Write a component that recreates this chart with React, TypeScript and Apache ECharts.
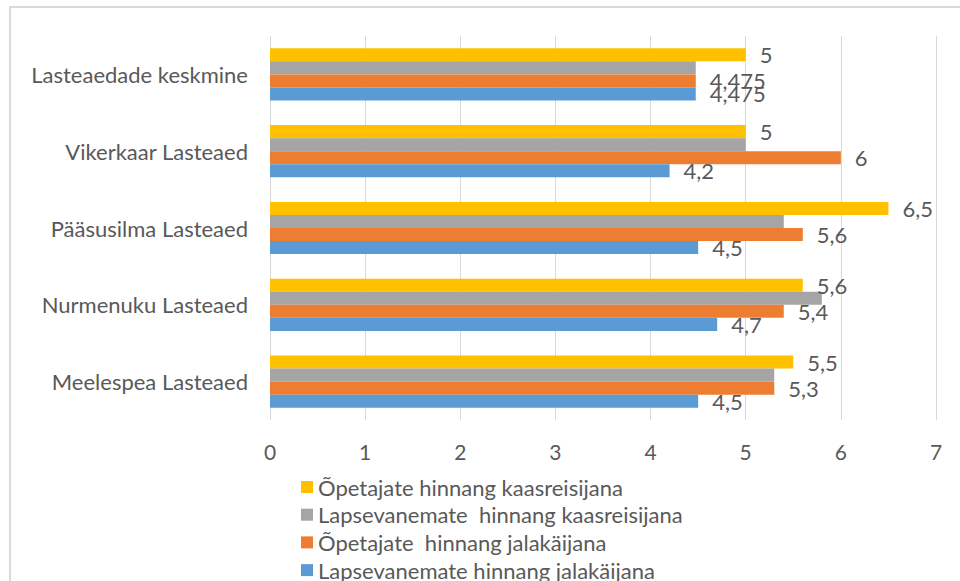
import React, { useEffect, useRef } from "react";
import * as echarts from "echarts";

const categories = [
  "Meelespea Lasteaed",
  "Nurmenuku Lasteaed",
  "Pääsusilma Lasteaed",
  "Vikerkaar Lasteaed",
  "Lasteaedade keskmine",
];

// series in drawing order (top of each group first)
const seriesNames = [
  "Õpetajate hinnang kaasreisijana",
  "Lapsevanemate  hinnang kaasreisijana",
  "Õpetajate  hinnang jalakäijana",
  "Lapsevanemate hinnang jalakäijana",
];

const teachersPassenger = [5.5, 5.6, 6.5, 5, 5];
const parentsPassenger = [5.3, 5.8, 5.4, 5, 4.475];
const teachersWalking = [5.3, 5.4, 5.6, 6, 4.475];
const parentsWalking = [4.5, 4.7, 4.5, 4.2, 4.475];

const xTicks = [0, 1, 2, 3, 4, 5, 6, 7];

const colors = ["#FFC000", "#A5A5A5", "#ED7D31", "#5B9BD5"];
const showLabels = [true, false, true, true];

const FONT = "Lato, 'Noto Sans', sans-serif";

export default function App() {
  const ref = useRef<HTMLDivElement>(null);

  useEffect(() => {
    if (!ref.current) return;
    const chart = echarts.init(ref.current, undefined, { renderer: "svg" });
    const values = [teachersPassenger, parentsPassenger, teachersWalking, parentsWalking];
    const series = values.map((data, i) => ({
      name: seriesNames[i],
      type: "bar",
      data,
      barGap: "0%",
      barCategoryGap: "32%",
      itemStyle: { color: colors[i] },
      label: {
        show: showLabels[i],
        position: "right",
        distance: 14,
        color: "#595959",
        fontSize: 22,
        fontFamily: FONT,
        formatter: (p: any) => String(p.value).replace(".", ","),
      },
    }));
    chart.setOption({
      animation: false,
      backgroundColor: "#ffffff",
      textStyle: { fontFamily: FONT },
      grid: { left: 270, right: 24, top: 36, bottom: 161, containLabel: false },
      xAxis: {
        type: "value",
        min: xTicks[0],
        max: xTicks[xTicks.length - 1],
        interval: 1,
        axisLine: { show: false },
        axisTick: { show: false },
        splitLine: { show: true, lineStyle: { color: "#d9d9d9", width: 1 } },
        axisLabel: {
          color: "#595959",
          fontSize: 21,
          fontFamily: FONT,
          margin: 21,
        },
      },
      yAxis: {
        type: "category",
        data: categories,
        axisLine: { show: false },
        axisTick: { show: false },
        axisLabel: {
          color: "#595959",
          fontSize: 22,
          fontFamily: FONT,
          margin: 22,
        },
      },
      legend: {
        orient: "vertical",
        left: 296,
        top: 471,
        height: 160,
        itemWidth: 12,
        itemHeight: 12,
        itemGap: 5.7,
        icon: "rect",
        data: seriesNames,
        textStyle: { color: "#595959", fontSize: 22, fontFamily: FONT },
      },
      graphic: [
        {
          type: "rect",
          shape: { x: 10, y: 7, width: 980, height: 620 },
          style: { fill: "none", stroke: "#d9d9d9", lineWidth: 2 },
          silent: true,
        },
      ],
      series,
    });
    return () => chart.dispose();
  }, []);

  return (
    <div
      ref={ref}
      style={{ position: "absolute", left: 0, top: 0, width: 960, height: 581 }}
    />
  );
}
